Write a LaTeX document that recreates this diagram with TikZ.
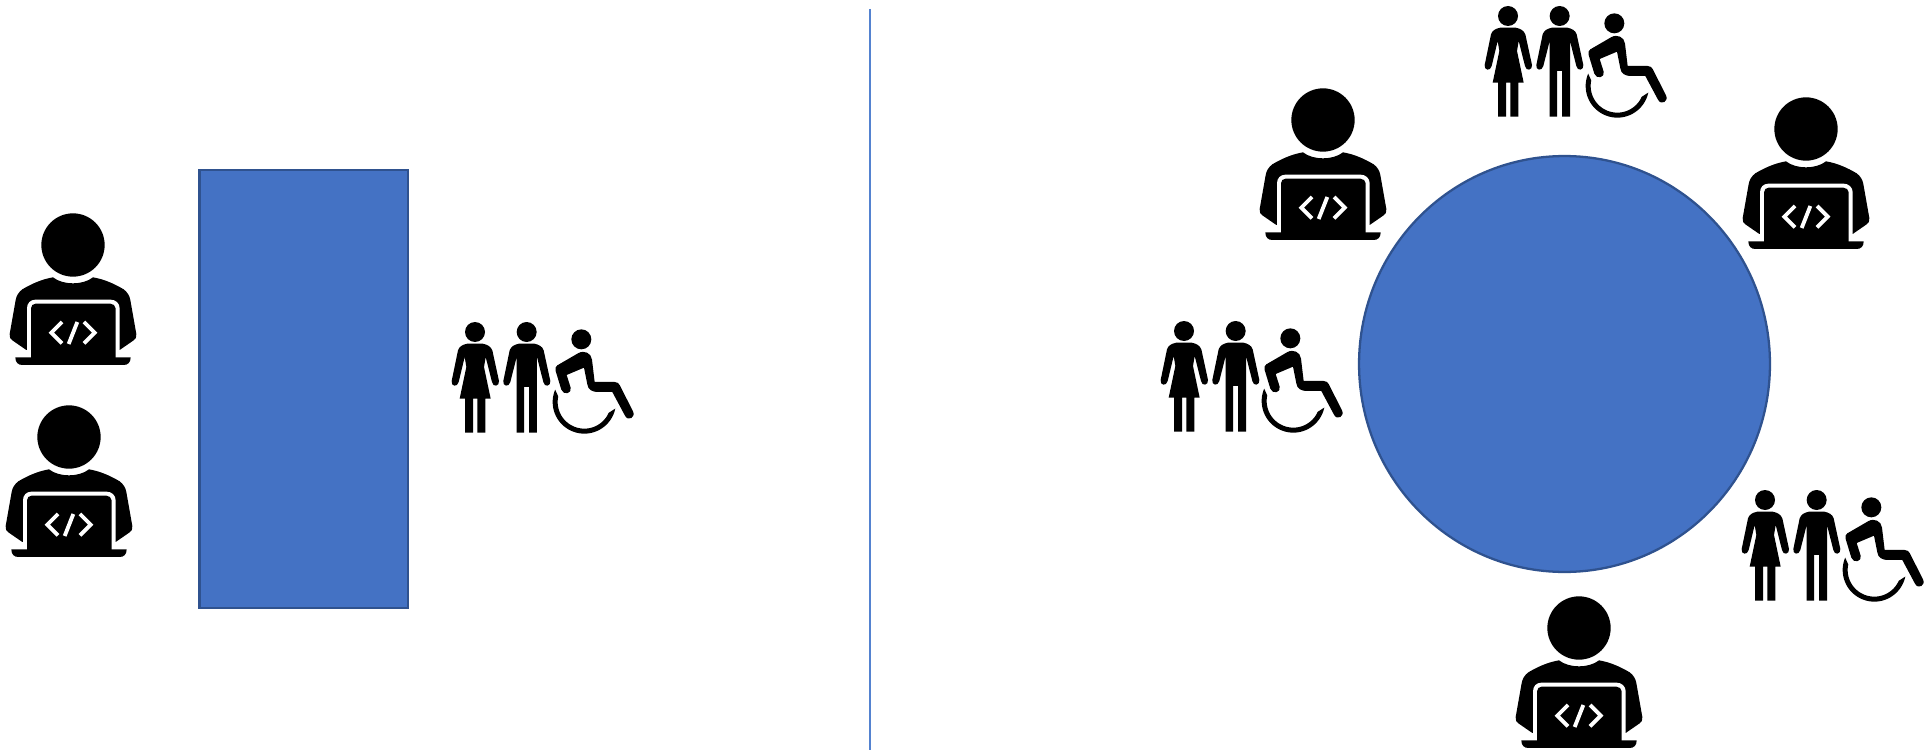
\documentclass[tikz,border=0pt]{standalone}
\usetikzlibrary{shapes.geometric}
\definecolor{fillblue}{RGB}{68,114,196}
\definecolor{edgeblue}{RGB}{47,82,143}
\definecolor{divblue}{RGB}{84,130,208}
\tikzset{
  x=0.02cm,y=-0.02cm,
  blueshape/.style={fill=fillblue,draw=edgeblue,line width=1.3pt,inner sep=0pt},
  divider/.style={draw=divblue,line width=1.1pt},
  pics/coder/.style={code={
    \begin{scope}[xscale=0.3333,yscale=0.3333,shift={(-220,-135)}]
    \fill[black] (220,135) circle (95);
    \fill[black] (160,232) .. controls (190,256) and (250,256) .. (280,232)
      .. controls (315,238) and (345,252) .. (372,268)
      .. controls (383,276) and (390,288) .. (392,300)
      -- (410,402) .. controls (411,412) and (408,417) .. (402,421)
      -- (360,450) -- (80,450) -- (38,421)
      .. controls (32,417) and (29,412) .. (30,402)
      -- (48,300) .. controls (50,288) and (57,276) .. (68,268)
      .. controls (95,252) and (125,238) .. (160,232) -- cycle;
    \fill[white] (82,480) -- (82,325) .. controls (82,310) and (92,299) .. (107,299)
      -- (333,299) .. controls (348,299) and (360,310) .. (360,325) -- (360,480) -- cycle;
    \fill[black] (94,480) -- (94,325) .. controls (94,317) and (100,311) .. (108,311)
      -- (332,311) .. controls (340,311) and (348,317) .. (348,325) -- (348,480) -- cycle;
    \fill[white] (30,450) rectangle (82,472);
    \fill[white] (360,450) rectangle (412,472);
    \fill[black] (47,472) -- (393,472) .. controls (393,487) and (385,495) .. (372,495)
      -- (68,495) .. controls (55,495) and (47,487) .. (47,472) -- cycle;
    \draw[white,line width=2.2pt] (187,366) -- (155,398) -- (187,430);
    \draw[white,line width=2.2pt] (253,366) -- (285,398) -- (253,430);
    \draw[white,line width=2.2pt] (233,366) -- (207,432);
    \end{scope}
  }},
  pics/people/.style={code={
    \begin{scope}[xscale=0.3333,yscale=0.3333,shift={(-103,-65)}]
    % woman
    \fill[black] (103,65) circle (30);
    \fill[black] (80,100) -- (126,100) .. controls (140,103) and (150,108) .. (155,120)
      -- (175,212) .. controls (177,228) and (157,232) .. (154,215)
      -- (135,140) -- (130,170) -- (150,265) -- (134,265) -- (134,367) -- (110,367) -- (110,265)
      -- (97,265) -- (97,367) -- (73,367) -- (73,265) -- (57,265) -- (77,170) -- (72,140)
      -- (54,215) .. controls (50,232) and (30,228) .. (33,212)
      -- (52,120) .. controls (56,108) and (66,103) .. (80,100) -- cycle;
    % man
    \fill[black] (258,65) circle (30);
    \fill[black] (235,100) -- (281,100) .. controls (295,103) and (305,108) .. (309,120)
      -- (329,212) .. controls (331,228) and (311,232) .. (308,215)
      -- (289,140) -- (289,367) -- (265,367) -- (265,230) -- (250,230) -- (250,367)
      -- (228,367) -- (228,140) -- (209,215) .. controls (205,232) and (185,228) .. (188,212)
      -- (207,120) .. controls (211,108) and (221,103) .. (235,100) -- cycle;
    % wheelchair user
    \fill[black] (422,87) circle (30);
    \fill[black] (350,165) -- (412,129) .. controls (430,118) and (452,128) .. (454,148)
      -- (462,215) -- (522,215) .. controls (530,215) and (534,219) .. (537,224)
      -- (577,303) .. controls (586,322) and (562,334) .. (553,316)
      -- (515,245) -- (475,245) .. controls (452,245) and (443,238) .. (440,222)
      -- (430,172) -- (378,194) -- (390,232) .. controls (395,250) and (368,256) .. (362,238)
      -- (345,182) .. controls (343,174) and (345,168) .. (350,165) -- cycle;
    \fill[black] plot[domain=12:203,samples=40] ({431+95*cos(\x)},{275+95*sin(\x)})
      -- plot[domain=192:24,samples=40] ({431+80*cos(\x)},{275+80*sin(\x)}) -- cycle;
    \end{scope}
  }}
}
\begin{document}
\begin{tikzpicture}
\useasboundingbox (0,0) rectangle (1924,750);
\fill[white] (0,0) rectangle (1924,750);
\node[blueshape,rectangle,minimum width=4.17cm,minimum height=8.76cm] (rectblock) at (303.75,389) {};
\node[blueshape,ellipse,minimum width=8.22cm,minimum height=8.32cm] (bigcircle) at (1564.5,364) {};
\coordinate (divtop) at (870,9);
\coordinate (divbot) at (870,750);
\draw[divider] (divtop) -- (divbot);
\pic at (73,245) {coder};
\pic at (69,437) {coder};
\pic at (1323,120) {coder};
\pic at (1806,129) {coder};
\pic at (1579,628) {coder};
\pic at (475,332) {people};
\pic at (1508,16) {people};
\pic at (1184,331) {people};
\pic at (1765,500) {people};
\end{tikzpicture}
\end{document}
